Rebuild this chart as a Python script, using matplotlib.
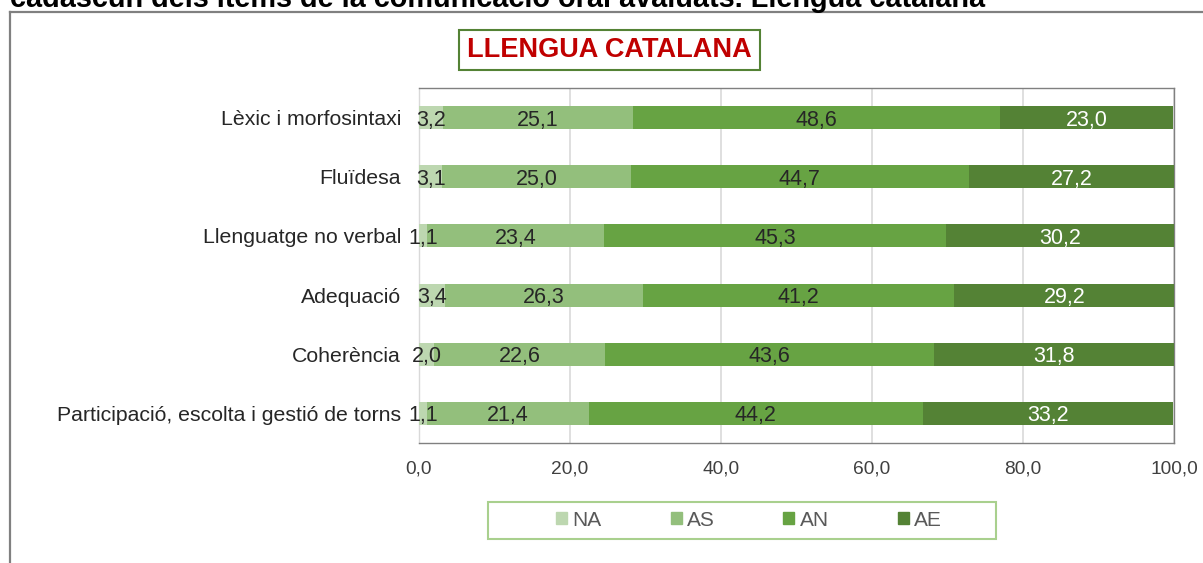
import matplotlib
matplotlib.use("Agg")
import matplotlib.pyplot as plt
from matplotlib.lines import Line2D
from matplotlib.patches import Rectangle
import numpy as np

plt.rcParams['font.family'] = ['Liberation Sans', 'DejaVu Sans']

categories = ["Lèxic i morfosintaxi", "Fluïdesa", "Llenguatge no verbal",
              "Adequació", "Coherència", "Participació, escolta i gestió de torns"]
series_names = ["NA", "AS", "AN", "AE"]
NA = [3.2, 3.1, 1.1, 3.4, 2.0, 1.1]
AS = [25.1, 25.0, 23.4, 26.3, 22.6, 21.4]
AN = [48.6, 44.7, 45.3, 41.2, 43.6, 44.2]
AE = [23.0, 27.2, 30.2, 29.2, 31.8, 33.2]
xticks = [0, 20, 40, 60, 80, 100]
xtick_labels = ["0,0", "20,0", "40,0", "60,0", "80,0", "100,0"]

colors = ["#bdd7b0", "#93bf7c", "#67a343", "#548235"]
label_colors = ["#262626", "#262626", "#262626", "#ffffff"]

W, H = 1203, 563
fig = plt.figure(figsize=(W / 100, H / 100), dpi=100)

def fx(px):
    return px / W

def fy(py):
    return 1 - py / H

# outer frame (partial)
fig.add_artist(Line2D([fx(10), fx(10)], [fy(12), fy(563)], color="#808080", lw=1.6))
fig.add_artist(Line2D([fx(10), fx(1203)], [fy(12), fy(12)], color="#808080", lw=1.6))

# cut-off header title
fig.text(fx(10), fy(7), "cadascun dels ítems de la comunicació oral avaluats. Llengua catalana",
         ha="left", va="baseline", fontsize=20.8, fontweight="bold", color="black")

ax = fig.add_axes([fx(419), fy(443), fx(1174) - fx(419), fy(88) - fy(443)])
y = np.arange(len(categories))
data = [NA, AS, AN, AE]
left = np.zeros(len(categories))
for vals, name, col, lc in zip(data, series_names, colors, label_colors):
    vals = np.array(vals)
    ax.barh(y, vals, left=left, height=0.39, color=col, label=name, zorder=3)
    for yi, l, v in zip(y, left, vals):
        ax.text(l + v / 2, yi, f"{v:.1f}".replace(".", ","), ha="center",
                va="center_baseline", fontsize=15.5, color=lc, zorder=4)
    left = left + vals

ax.set_xlim(0, 100)
ax.set_ylim(len(categories) - 0.5, -0.5)
ax.set_yticks(y)
ax.set_yticklabels(categories, fontsize=15.3, color="#262626")
ax.set_xticks(xticks)
ax.set_xticklabels(xtick_labels, fontsize=13.8, color="#404040")
ax.tick_params(axis="both", length=0)
ax.tick_params(axis="y", pad=13)
ax.tick_params(axis="x", pad=12.5)
ax.grid(axis="x", color="#d9d9d9", lw=1.2, zorder=0)
for s in ax.spines.values():
    s.set_color("#808080")
    s.set_linewidth(1.0)
ax.spines["left"].set_color("#d9d9d9")

# title box
fig.text(fx(609), fy(50), "LLENGUA CATALANA", ha="center", va="center",
         fontsize=19.5, fontweight="bold", color="#c00000")
fig.add_artist(Rectangle((fx(459), fy(70)), fx(760) - fx(459), fy(30) - fy(70),
                         transform=fig.transFigure, fill=False, edgecolor="#548235", lw=1.5))

# legend
handles = [Rectangle((0, 0), 1, 1, color=c) for c in colors]
leg = fig.legend(handles, series_names, loc="center",
                 bbox_to_anchor=(fx(749), fy(520)), ncol=4, frameon=False,
                 fontsize=15, handlelength=0.53, handleheight=0.53, handletextpad=0.25,
                 columnspacing=3.3, borderpad=0.3, labelcolor="#595959")
fig.add_artist(Rectangle((fx(488), fy(539)), fx(996) - fx(488), fy(502) - fy(539),
                         transform=fig.transFigure, fill=False, edgecolor="#a9d08e", lw=1.5))

fig.savefig("out.png", dpi=100)
